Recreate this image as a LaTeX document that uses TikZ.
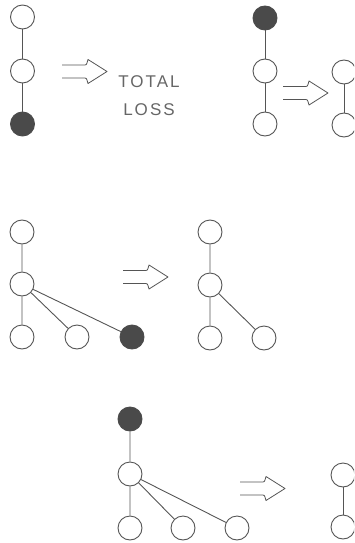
\documentclass[tikz,border=0pt]{standalone}
\usepackage{fontspec}
\newfontfamily\labelfont[LetterSpace=12]{Liberation Sans}
\definecolor{ink}{HTML}{555555}
\definecolor{dark}{HTML}{4A4A4A}
\definecolor{txt}{HTML}{666666}
\begin{document}
\begin{tikzpicture}[x=1pt,y=-1pt,
  vertex/.style={circle,draw=ink,line width=0.9pt,fill=white,minimum size=24pt,inner sep=0pt},
  lost/.style={vertex,fill=dark,draw=dark},
  link/.style={draw=ink,line width=0.9pt},
  caption/.style={font=\labelfont\fontsize{17}{17}\selectfont,text=txt,inner sep=0pt},
  hollowarrow/.pic={
    \draw[ink,line width=0.8pt,line join=round]
      (0,-6.5) -- (23,-6.5) to[out=0,in=240] (26,-12)
      -- (45,0) -- (26,12) to[out=120,in=0] (23,6.5) -- (0,6.5);
  }]
\useasboundingbox (0,0) rectangle (354,543);
\clip (0,0) rectangle (354,543);

% chain of three, bottom vertex lost
\node[vertex] (a1) at (22.5,17) {};
\node[vertex] (a2) at (22.5,71) {};
\node[lost]   (a3) at (22.5,124) {};
\draw[link] (a1) -- (a2) (a2) -- (a3);
\pic at (62,71.5) {hollowarrow};
\node[caption] (total) at (149,82) {TOTAL};
\node[caption] (loss) at (149,110) {LOSS};

% chain of three, top vertex lost
\node[lost]   (b1) at (265,18) {};
\node[vertex] (b2) at (265,71) {};
\node[vertex] (b3) at (265,124) {};
\draw[link] (b1) -- (b2) (b2) -- (b3);
\pic at (283,93) {hollowarrow};
\node[vertex] (c1) at (344,72) {};
\node[vertex] (c2) at (344,125) {};
\draw[link] (c1) -- (c2);

% star with a lost leaf
\node[vertex] (d1) at (22,232) {};
\node[vertex] (d2) at (22,284) {};
\node[vertex] (d3) at (22,337) {};
\node[vertex] (d4) at (77,337) {};
\node[lost]   (d5) at (132,337) {};
\draw[link] (d1) -- (d2) (d2) -- (d3) (d2) -- (d4) (d2) -- (d5);
\pic at (123,277) {hollowarrow};
\node[vertex] (e1) at (210,232) {};
\node[vertex] (e2) at (210,285) {};
\node[vertex] (e3) at (210,338) {};
\node[vertex] (e4) at (264,338) {};
\draw[link] (e1) -- (e2) (e2) -- (e3) (e2) -- (e4);

% star with the root lost
\node[lost]   (f1) at (130,419) {};
\node[vertex] (f2) at (130,474) {};
\node[vertex] (f3) at (130,528) {};
\node[vertex] (f4) at (183,528) {};
\node[vertex] (f5) at (237,528) {};
\draw[link] (f1) -- (f2) (f2) -- (f3) (f2) -- (f4) (f2) -- (f5);
\pic at (240,488.5) {hollowarrow};
\node[vertex] (g1) at (343,475) {};
\node[vertex] (g2) at (343,527) {};
\draw[link] (g1) -- (g2);
\end{tikzpicture}
\end{document}
